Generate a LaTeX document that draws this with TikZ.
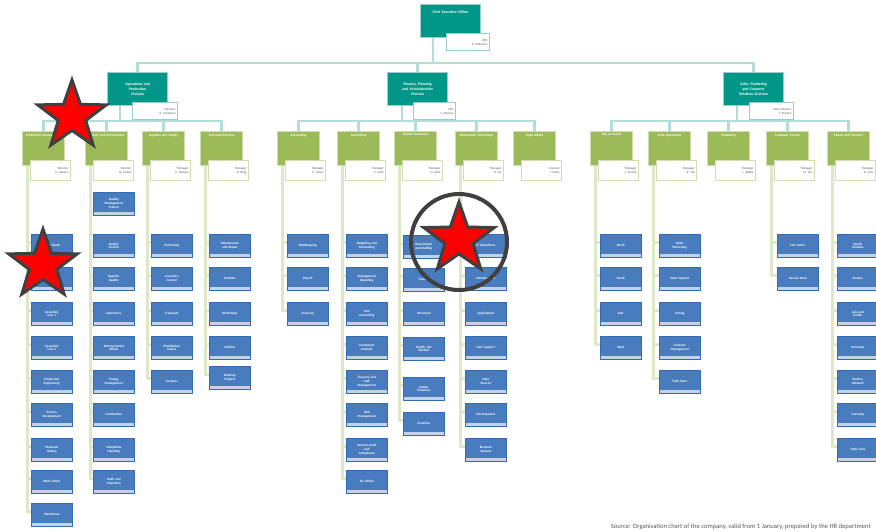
\documentclass[tikz,border=0pt]{standalone}
\usepackage{fontspec}
\setmainfont{Carlito}
\usetikzlibrary{shapes.geometric,calc}
\definecolor{teal1}{RGB}{0,150,136}
\definecolor{tealedge}{RGB}{150,208,200}
\definecolor{tealline}{RGB}{180,221,218}
\definecolor{green1}{RGB}{155,187,89}
\definecolor{greenedge}{RGB}{208,222,175}
\definecolor{greenline}{RGB}{222,232,200}
\definecolor{blue1}{RGB}{72,124,190}
\definecolor{blueedge}{RGB}{50,108,180}
\definecolor{bluestrip}{RGB}{196,210,232}
\definecolor{stargray}{RGB}{64,64,64}
\definecolor{textgray}{RGB}{90,90,90}
\tikzset{
  tealbox/.style={anchor=north west, fill=teal1, draw=tealedge, line width=1.2pt, text=white,
    inner sep=2pt, text width=56pt, minimum height=33pt, align=center,
    font=\fontsize{3.8}{4.6}\selectfont\bfseries},
  teallabel/.style={anchor=north west, fill=white, draw=tealedge, line width=1pt,
    inner sep=2pt, minimum height=17pt, align=right, text=textgray,
    font=\fontsize{3.2}{4}\selectfont},
  greenbox/.style={anchor=north west, fill=green1, draw=greenedge, line width=1.2pt,
    minimum width=42pt, minimum height=34pt, inner sep=0pt},
  gtext/.style={anchor=north, text=white, font=\fontsize{3.4}{4}\selectfont\bfseries,
    text width=38pt, align=center, inner sep=2.5pt},
  labelbox/.style={anchor=north west, fill=white, draw=greenedge, line width=1pt,
    minimum height=20pt, text width=36pt, align=right, inner sep=2pt,
    font=\fontsize{3.2}{4}\selectfont, text=textgray},
  bluebox/.style={anchor=north west, fill=blue1, draw=blueedge, line width=0.6pt, text=white,
    inner sep=1.5pt, text width=38pt, minimum height=23pt, align=center,
    font=\fontsize{3.3}{3.9}\selectfont\bfseries,
    path picture={\fill[bluestrip] ([yshift=3.5pt]path picture bounding box.south west)
      rectangle (path picture bounding box.south east);}},
  tconn/.style={draw=tealline, line width=2.5pt},
  gconn/.style={draw=greenline, line width=3pt},
  starshape/.style={star, star points=5, star point ratio=2.5, minimum size=72pt,
    inner sep=0pt, fill=red, draw=stargray, line width=3pt},
}
\newcommand{\mkgrp}[4]{%
  \node[greenbox] (#1) at (#2,131) {};
  \node[gtext] (#1t) at (#1.north) {#3};
  \node[labelbox] (#1l) at (#2+8,160) {#4};}
\newcommand{\mkblue}[4]{\node[bluebox] (#1) at (#2,#3) {#4};}
\newcommand{\mkconn}[2]{\foreach \bb in {#2}{\draw[gconn] ([xshift=5pt]#1.south west) |- ([yshift=3pt]\bb.west);}}
\begin{document}
\begin{tikzpicture}[x=1pt,y=-1pt]
\useasboundingbox (0,0) rectangle (876,531);

% top level
\node[tealbox] (top) at (420,4) {Chief Executive Officer\\[14pt]~};
\node[teallabel, text width=39pt] (topl) at (446,33) {CEO\\ P. Andersen};

% divisions
\node[tealbox] (d1) at (107,72) {Operations and\\ Production\\ Division};
\node[tealbox] (d2) at (387,72) {Finance, Planning\\ and Administration\\ Division};
\node[tealbox] (d3) at (723,72) {Sales, Marketing\\ and Customer\\ Relations Division};
\node[teallabel, text width=41pt] (d1l) at (132,102) {Director\\ R. Johansen};
\node[teallabel, text width=38pt] (d2l) at (413,102) {CFO\\ S. Karlsen};
\node[teallabel, text width=40pt] (d3l) at (749,102) {Sales Director\\ T. Eriksen};

% top connectors
\coordinate (hub) at (433,63);
\draw[tconn] (hub) -- (hub |- top.south);
\draw[tconn] (hub) -| (d1.north);
\draw[tconn] (hub) -| (d2.north);
\draw[tconn] (hub) -| (d3.north);

% departments
\mkgrp{g1}{22}{Production Management}{Director\\ A. Hansen}
\mkgrp{g2}{85}{Quality and Environment}{Director\\ B. Larsen}
\mkgrp{g3}{142}{Logistics and Supply}{Manager\\ C. Nielsen}
\mkgrp{g4}{200}{Technical Services}{Manager\\ D. Berg}
\mkgrp{g5}{277}{Accounting}{Manager\\ E. Olsen}
\mkgrp{g6}{337}{Controlling}{Manager\\ F. Dahl}
\mkgrp{g7}{394}{Human Resources}{Manager\\ G. Moe}
\mkgrp{g8}{455}{Information Technology}{Manager\\ H. Lie}
\mkgrp{g9}{513}{Legal Affairs}{Counsel\\ I. Holm}
\mkgrp{g10}{590}{Key Accounts}{Manager\\ J. Strand}
\mkgrp{g11}{648}{Sales Operations}{Manager\\ K. Vik}
\mkgrp{g12}{707}{Marketing}{Manager\\ L. Bakke}
\mkgrp{g13}{766}{Customer Service}{Manager\\ M. Aas}
\mkgrp{g14}{827}{Export and Partners}{Manager\\ N. Foss}

% division -> department connectors
\coordinate (h1) at (120,121);
\coordinate (h2) at (402,121);
\coordinate (h3) at (737,121);
\draw[tconn] (h1) -- (h1 |- d1.south);
\draw[tconn] (h2) -- (h2 |- d2.south);
\draw[tconn] (h3) -- (h3 |- d3.south);
\foreach \g in {g1,g2,g3,g4}{\draw[tconn] (h1) -| (\g.north);}
\foreach \g in {g5,g6,g7,g8,g9}{\draw[tconn] (h2) -| (\g.north);}
\foreach \g in {g10,g11,g12,g13,g14}{\draw[tconn] (h3) -| (\g.north);}

% ---- units, left group
\mkblue{a1}{31}{234}{Plant North}
\mkblue{a2}{31}{267}{Plant South}
\mkblue{a3}{31}{302}{Assembly\\ Line 1}
\mkblue{a4}{31}{336}{Assembly\\ Line 2}
\mkblue{a5}{31}{370}{Production\\ Engineering}
\mkblue{a6}{31}{403}{Process\\ Development}
\mkblue{a7}{31}{438}{Materials\\ Testing}
\mkblue{a8}{31}{470}{Work Safety}
\mkblue{a9}{31}{503}{Warehouse}
\mkconn{g1}{a1,a2,a3,a4,a5,a6,a7,a8,a9}

\mkblue{b0}{93}{192}{Quality\\ Management\\ System}
\mkblue{b1}{93}{234}{Quality\\ Control}
\mkblue{b2}{93}{267}{Supplier\\ Quality}
\mkblue{b3}{93}{302}{Laboratory}
\mkblue{b4}{93}{336}{Environmental\\ Affairs}
\mkblue{b5}{93}{370}{Energy\\ Management}
\mkblue{b6}{93}{403}{Certification}
\mkblue{b7}{93}{438}{Complaints\\ Handling}
\mkblue{b8}{93}{470}{Audit and\\ Inspection}
\mkconn{g2}{b1,b2,b3,b4,b5,b6,b7,b8}

\mkblue{c1}{151}{234}{Purchasing}
\mkblue{c2}{151}{267}{Inventory\\ Control}
\mkblue{c3}{151}{302}{Transport}
\mkblue{c4}{151}{336}{Distribution\\ Centre}
\mkblue{c5}{151}{370}{Customs}
\mkconn{g3}{c1,c2,c3,c4,c5}

\mkblue{e1}{209}{234}{Maintenance\\ and Repair}
\mkblue{e2}{209}{267}{Facilities}
\mkblue{e3}{209}{302}{Workshops}
\mkblue{e4}{209}{336}{Utilities}
\mkblue{e5}{209}{366}{Building\\ Projects}
\mkconn{g4}{e1,e2,e3,e4,e5}

% ---- units, middle group
\mkblue{f1}{287}{234}{Bookkeeping}
\mkblue{f2}{287}{267}{Payroll}
\mkblue{f3}{287}{302}{Invoicing}
\mkconn{g5}{f1,f2,f3}

\mkblue{h1b}{346}{234}{Budgeting and\\ Forecasting}
\mkblue{h2b}{346}{267}{Management\\ Reporting}
\mkblue{h3b}{346}{302}{Cost\\ Accounting}
\mkblue{h4b}{346}{336}{Investment\\ Analysis}
\mkblue{h5b}{346}{370}{Treasury and\\ Cash\\ Management}
\mkblue{h6b}{346}{403}{Risk\\ Management}
\mkblue{h7b}{346}{438}{Internal Audit\\ and\\ Compliance}
\mkblue{h8b}{346}{470}{Tax Affairs}
\mkconn{g6}{h1b,h2b,h3b,h4b,h5b,h6b,h7b,h8b}

\mkblue{k1}{403}{235}{Recruitment\\ and Staffing}
\mkblue{k2}{403}{268}{Training}
\mkblue{k3}{403}{302}{Personnel}
\mkblue{k4}{403}{337}{Health and\\ Welfare}
\mkblue{k5}{403}{377}{Labour\\ Relations}
\mkblue{k6}{403}{412}{Pensions}
\mkconn{g7}{k1,k2,k3,k4,k5,k6}

\mkblue{m1}{465}{234}{IT Operations}
\mkblue{m2}{465}{267}{Infrastructure}
\mkblue{m3}{465}{302}{Applications}
\mkblue{m4}{465}{336}{User Support}
\mkblue{m5}{465}{370}{Data\\ Security}
\mkblue{m6}{465}{403}{Development}
\mkblue{m7}{465}{438}{Business\\ Systems}
\mkconn{g8}{m1,m2,m3,m4,m5,m6,m7}

% ---- units, right group
\mkblue{n1}{600}{234}{North}
\mkblue{n2}{600}{267}{South}
\mkblue{n3}{600}{302}{East}
\mkblue{n4}{600}{336}{West}
\mkconn{g10}{n1,n2,n3,n4}

\mkblue{p1}{659}{234}{Order\\ Processing}
\mkblue{p2}{659}{267}{Sales Support}
\mkblue{p3}{659}{302}{Pricing}
\mkblue{p4}{659}{336}{Contract\\ Management}
\mkblue{p5}{659}{370}{Field Sales}
\mkconn{g11}{p1,p2,p3,p4,p5}

\mkblue{q1}{777}{234}{Call Centre}
\mkblue{q2}{777}{267}{Service Desk}
\mkconn{g13}{q1,q2}

\mkblue{r1}{837}{234}{Nordic\\ Markets}
\mkblue{r2}{837}{267}{Europe}
\mkblue{r3}{837}{302}{Asia and\\ Pacific}
\mkblue{r4}{837}{336}{Americas}
\mkblue{r5}{837}{370}{Partner\\ Network}
\mkblue{r6}{837}{403}{Licensing}
\mkblue{r7}{837}{438}{Trade Fairs}
\mkconn{g14}{r1,r2,r3,r4,r5,r6,r7}

% caption
\node[anchor=south east, inner sep=0pt, text=textgray, font=\fontsize{6.6}{7}\selectfont]
  (caption) at (871,530) {Source: Organisation chart of the company, valid from 1 January, prepared by the HR department};

% markers
\node[starshape] (st1) at (72,116) {};
\node[starshape] (st2) at (43,265) {};
\node[starshape, minimum size=74pt] (st3) at (459,239) {};
\node[circle, draw=stargray, line width=4pt, minimum size=96pt, inner sep=0pt] (ring) at (459,242) {};
\end{tikzpicture}
\end{document}
